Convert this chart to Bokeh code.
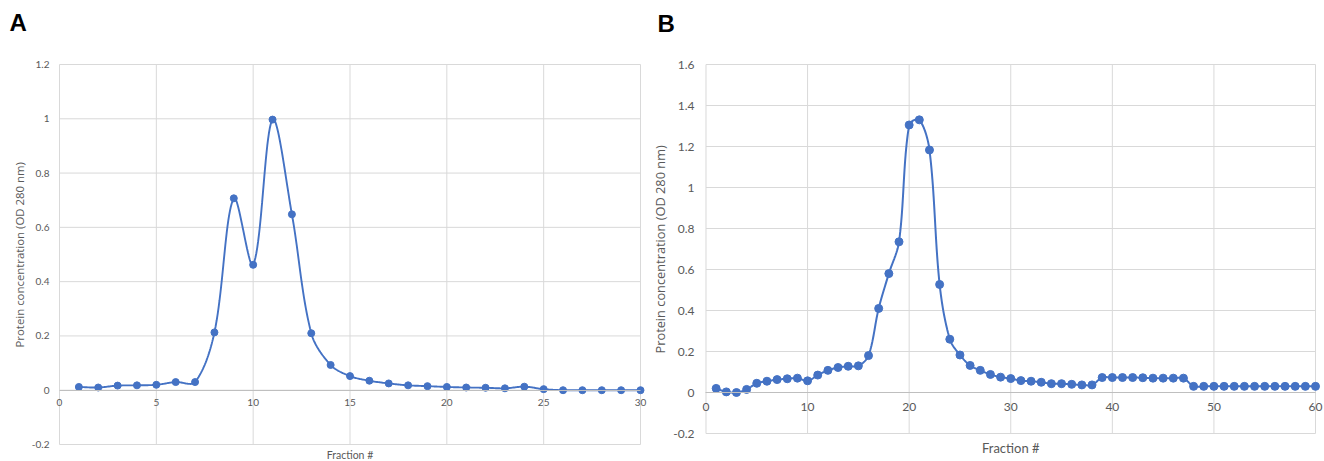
import numpy as np
from bokeh.plotting import figure
from bokeh.models import FixedTicker, LinearAxis, Title, Range1d, CustomJSTickFormatter
from bokeh.layouts import row, column
from bokeh.core.properties import value
from bokeh.embed import file_html
from bokeh.resources import INLINE

# ---------------- data ----------------
fraction_a = list(range(1, 31))
conc_a = [0.012, 0.010, 0.017, 0.018, 0.020, 0.030, 0.030, 0.213, 0.707, 0.462,
          0.997, 0.648, 0.210, 0.093, 0.052, 0.035, 0.025, 0.018, 0.015, 0.012,
          0.010, 0.009, 0.007, 0.013, 0.004, 0.000, 0.000, 0.000, 0.000, 0.000]

fraction_b = list(range(1, 61))
conc_b = [0.020, 0.003, 0.000, 0.015, 0.045, 0.055, 0.063, 0.067, 0.070, 0.057,
          0.085, 0.108, 0.122, 0.128, 0.130, 0.180, 0.410, 0.580, 0.735, 1.305,
          1.330, 1.183, 0.527, 0.260, 0.183, 0.132, 0.108, 0.088, 0.075, 0.068,
          0.058, 0.055, 0.050, 0.043, 0.043, 0.040, 0.037, 0.037, 0.073, 0.073,
          0.073, 0.073, 0.072, 0.070, 0.070, 0.070, 0.070, 0.030, 0.030, 0.030,
          0.030, 0.030, 0.030, 0.030, 0.030, 0.030, 0.030, 0.030, 0.030, 0.030]

xticks_a = [0, 5, 10, 15, 20, 25, 30]
yticks_a = [-0.2, 0, 0.2, 0.4, 0.6, 0.8, 1.0, 1.2]
xticks_b = [0, 10, 20, 30, 40, 50, 60]
yticks_b = [-0.2, 0, 0.2, 0.4, 0.6, 0.8, 1.0, 1.2, 1.4, 1.6]

panel_letters = ["A", "B"]
y_label = "Protein concentration (OD 280 nm)"
x_label = "Fraction #"

BLUE = "#4472C4"
GRID = "#d9d9d9"
ZERO = "#bfbfbf"
TXT = "#595959"


def smooth(xs, ys, kx, ky, n=24):
    """Excel-like smoothed line: cubic Bezier segments whose control arms
    are scaled by neighbouring chord lengths measured in screen pixels."""
    x = np.asarray(xs, float)
    y = np.asarray(ys, float)
    P = np.column_stack([x, y])
    S = np.column_stack([x * kx, y * ky])
    d = np.hypot(np.diff(S[:, 0]), np.diff(S[:, 1]))
    N = len(P)
    out = []
    t = np.linspace(0, 1, n)[:, None]
    for i in range(N - 1):
        p1, p2 = P[i], P[i + 1]
        if i > 0:
            c1 = p1 + (P[i + 1] - P[i - 1]) * d[i] / (d[i - 1] + d[i]) / 3.0
        else:
            c1 = p1 + (p2 - p1) / 3.0
        if i + 2 < N:
            c2 = p2 - (P[i + 2] - P[i]) * d[i] / (d[i] + d[i + 1]) / 3.0
        else:
            c2 = p2 - (p2 - p1) / 3.0
        seg = ((1 - t) ** 3) * p1 + 3 * ((1 - t) ** 2) * t * c1 + 3 * (1 - t) * t ** 2 * c2 + t ** 3 * p2
        out.append(seg if i == 0 else seg[1:])
    out = np.vstack(out)
    return out[:, 0], out[:, 1]


def panel(xs, ys, xticks, yticks, width, height, bl, bt,
          data_px, tick_fs, ylab_fs, xlab_fs, ms, lw,
          ytick_standoff, xtick_standoff, ylab_standoff, ylab_offset, xlab_dy):
    # frame geometry (figure pixels) and where the data box should sit in it
    fl, fr, ft, fb = bl, width, bt, height
    dl, dr, dt, db = data_px
    kx = (dr - dl) / (xticks[-1] - xticks[0])
    ky = (db - dt) / (yticks[-1] - yticks[0])
    p = figure(width=width, height=height,
               x_range=Range1d(xticks[0] - (dl - fl) / kx, xticks[-1] + (fr - dr) / kx),
               y_range=Range1d(yticks[0] - (fb - db) / ky, yticks[-1] + (dt - ft) / ky),
               output_backend="svg", toolbar_location=None,
               x_axis_location=None,
               min_border_left=bl, min_border_right=0,
               min_border_top=bt, min_border_bottom=0)
    p.outline_line_color = None
    p.background_fill_color = "white"
    p.grid.visible = False

    # gridlines limited to the data region
    p.segment(x0=xticks, x1=xticks, y0=yticks[0], y1=yticks[-1],
              line_color=GRID, line_width=1)
    p.segment(x0=xticks[0], x1=xticks[-1], y0=yticks, y1=yticks,
              line_color=GRID, line_width=1)

    # y axis (ticks only)
    ya = p.yaxis[0]
    ya.ticker = FixedTicker(ticks=yticks)
    ya.bounds = (yticks[0], yticks[-1])
    ya.formatter = CustomJSTickFormatter(code="return tick.toFixed(1).replace(/\\.0$/, '');")
    ya.axis_line_color = None
    ya.major_tick_line_color = None
    ya.minor_tick_line_color = None
    ya.major_tick_out = 0
    ya.major_tick_in = 0
    ya.major_label_text_font = "Lato"
    ya.major_label_text_font_size = tick_fs
    ya.major_label_text_color = TXT
    ya.major_label_standoff = ytick_standoff

    # y axis title, placed along the data region
    yt = Title(text=y_label, align="left", offset=ylab_offset, standoff=ylab_standoff,
               vertical_align="bottom", text_font="Open Sans",
               text_font_size=ylab_fs, text_font_style="normal", text_color=TXT)
    p.add_layout(yt, "left")

    # x axis crossing at y = 0
    xa = LinearAxis(fixed_location=0, ticker=FixedTicker(ticks=xticks),
                    bounds=(xticks[0], xticks[-1]))
    xa.axis_line_color = ZERO
    xa.axis_line_width = 1
    xa.major_tick_line_color = None
    xa.minor_tick_line_color = None
    xa.major_tick_out = 0
    xa.major_tick_in = 0
    xa.major_label_text_font = "Lato"
    xa.major_label_text_font_size = tick_fs
    xa.major_label_text_color = TXT
    xa.major_label_standoff = xtick_standoff
    p.add_layout(xa, "below")

    # x axis title under the data region
    p.text(x=[(xticks[0] + xticks[-1]) / 2], y=[yticks[0]], text=[x_label],
           y_offset=xlab_dy, text_font=value("Lato"), text_font_size=xlab_fs,
           text_color=TXT, text_align="center", text_baseline="middle")

    sx, sy = smooth(xs, ys, kx, ky)
    p.line(sx, sy, line_color=BLUE, line_width=lw)
    p.scatter(xs, ys, size=ms, marker="circle", fill_color=BLUE, line_color=BLUE)
    return p


# strip on top holding the panel letters (pixel coordinates)
STRIP_H = 48
strip = figure(width=1324, height=STRIP_H, x_range=Range1d(0, 1324), y_range=Range1d(STRIP_H, 0),
               output_backend="svg", toolbar_location=None,
               x_axis_location=None, y_axis_location=None, min_border=0)
strip.outline_line_color = None
strip.grid.visible = False
strip.text(x=[9, 657], y=[21.5, 23], text=panel_letters,
           text_font=value("Liberation Sans"), text_font_style="bold",
           text_font_size="24px", text_color="black",
           text_baseline="middle", text_align="left")

H = 461 - STRIP_H
# data_px = (x of first tick, x of last tick, y of top tick, y of bottom tick) in figure px
pa = panel(fraction_a, conc_a, xticks_a, yticks_a,
           width=647, height=H, bl=50, bt=63 - STRIP_H,
           data_px=(59, 640, 64 - STRIP_H, 444 - STRIP_H),
           tick_fs="10px", ylab_fs="11.4px", xlab_fs="10.5px", ms=7, lw=1.9,
           ytick_standoff=1, xtick_standoff=9, ylab_standoff=4, ylab_offset=114,
           xlab_dy=10)
pb = panel(fraction_b, conc_b, xticks_b, yticks_b,
           width=677, height=H, bl=50, bt=63 - STRIP_H,
           data_px=(704.5 - 647, 1315 - 647, 64 - STRIP_H, 433 - STRIP_H),
           tick_fs="12px", ylab_fs="12.8px", xlab_fs="13px", ms=8, lw=2,
           ytick_standoff=4, xtick_standoff=10, ylab_standoff=3, ylab_offset=108,
           xlab_dy=14)

layout = column(strip, row(pa, pb))
open("out.html", "w").write(file_html(layout, INLINE))
